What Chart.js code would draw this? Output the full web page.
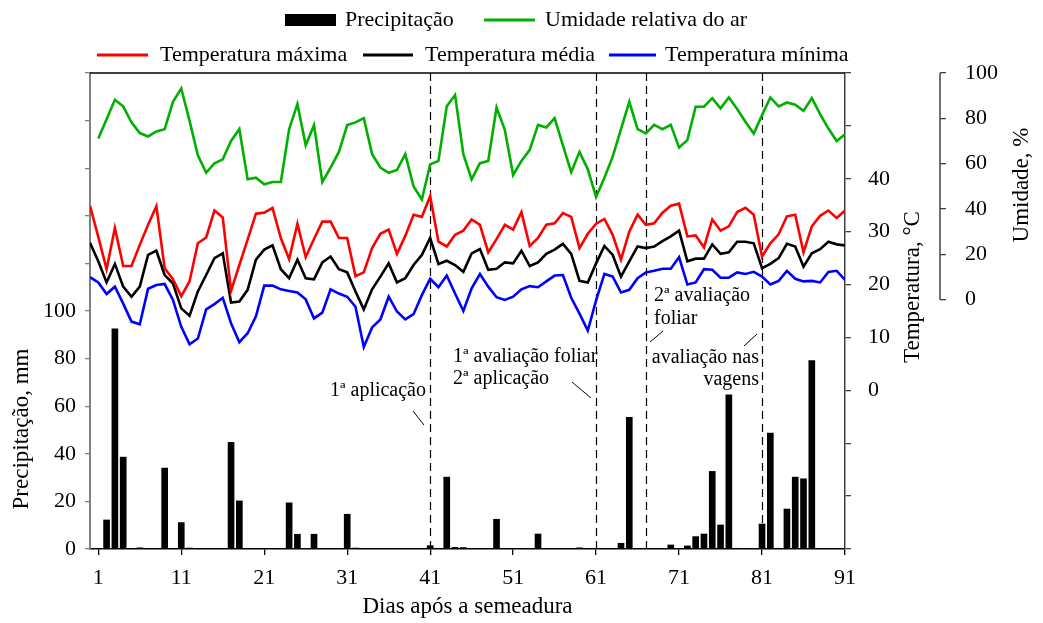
<!DOCTYPE html>
<html>
<head>
<meta charset="utf-8">
<script src="https://cdn.jsdelivr.net/npm/chart.js@4.4.1/dist/chart.umd.min.js"></script>
<style>
body { margin: 0; background: #fff; }
#box { width: 1043px; height: 623px; position: relative; }
</style>
</head>
<body>
<div id="box"><canvas id="grafico"></canvas></div>
<script>
// dias 1..91 (precipitacao, umidade) e 0..91 (temperaturas)
const diasTicks = [1, 11, 21, 31, 41, 51, 61, 71, 81, 91]
const precipTicks = [0, 20, 40, 60, 80, 100]
const tempTicks = [0, 10, 20, 30, 40]
const umidadeTicks = [0, 20, 40, 60, 80, 100]

const precipitacao = [
    0, 12.2, 92.5, 38.6, 0, 0.5, 0, 0, 34.0, 0,
    11.1, 0.4, 0, 0, 0, 0, 44.8, 20.2, 0, 0,
    0, 0, 0, 19.4, 6.2, 0, 6.2, 0, 0, 0,
    14.6, 0.4, 0, 0, 0, 0, 0, 0, 0, 0,
    1.4, 0, 30.2, 0.7, 0.6, 0, 0, 0, 12.5, 0,
    0, 0, 0, 6.3, 0, 0, 0, 0, 0.5, 0,
    0, 0, 0, 2.4, 55.3, 0, 0, 0, 0, 1.7,
    0, 1.3, 5.2, 6.3, 32.6, 10.1, 64.8, 0.3, 0, 0,
    10.5, 48.7, 0.3, 16.8, 30.2, 29.5, 79.2, 0, 0, 0,
    0
]

const umidade = [
    71.1, 79.6, 88.2, 85.3, 78.2, 73.5, 72.0, 74.2, 75.2, 87.3,
    93.2, 78.9, 63.7, 56.0, 60.2, 61.9, 70.0, 75.2, 53.1, 53.8,
    50.9, 51.9, 51.9, 75.2, 86.3, 68.1, 77.0, 51.9, 58.3, 65.2,
    77.0, 78.2, 80.1, 64.2, 58.3, 56.0, 57.2, 64.2, 49.9, 44.2,
    59.7, 61.2, 85.3, 90.3, 64.2, 53.1, 60.2, 61.2, 84.8, 74.9,
    55.0, 61.2, 66.1, 77.1, 76.0, 80.1, 68.1, 56.3, 65.2, 57.5,
    45.3, 53.8, 63.1, 75.2, 87.3, 75.2, 73.3, 77.1, 75.2, 77.1,
    67.1, 70.4, 85.1, 85.1, 88.9, 84.4, 89.2, 84.1, 78.5, 73.3,
    81.4, 89.2, 85.3, 87.0, 86.0, 83.3, 88.9, 81.9, 75.5, 70.0,
    73.0
]

const tempMaxima = [
    34.9, 29.0, 22.9, 30.7, 23.5, 23.5, 27.5, 31.3, 34.8, 23.1,
    21.0, 17.8, 20.6, 27.8, 28.9, 34.0, 32.7, 18.8, 23.7, 28.5,
    33.4, 33.6, 34.5, 28.8, 24.8, 31.5, 25.2, 28.6, 31.9, 31.9,
    28.8, 28.8, 21.6, 22.3, 26.9, 29.6, 30.4, 25.8, 29.2, 33.2,
    32.8, 36.7, 28.1, 27.2, 29.4, 30.2, 32.3, 31.3, 26.1, 28.6,
    31.3, 30.4, 33.7, 27.3, 28.8, 31.3, 31.6, 33.5, 32.8, 26.9,
    29.6, 31.5, 32.4, 29.4, 24.7, 30.0, 33.2, 31.3, 31.6, 33.6,
    34.9, 35.3, 29.1, 29.3, 27.0, 32.3, 30.2, 31.0, 33.7, 34.5,
    33.2, 25.3, 27.8, 29.5, 32.9, 33.2, 26.1, 31.0, 33.0, 34.0,
    32.6, 34.0
]

const tempMedia = [
    27.9, 24.4, 20.4, 23.9, 19.6, 17.7, 19.6, 25.6, 26.4, 21.8,
    20.2, 15.5, 14.1, 18.7, 21.8, 25.0, 25.9, 16.6, 16.8, 19.0,
    24.7, 26.6, 27.4, 22.9, 21.2, 24.7, 21.2, 21.0, 24.2, 25.3,
    22.9, 22.3, 18.7, 15.3, 19.1, 21.5, 24.0, 20.4, 21.2, 23.7,
    25.6, 28.8, 23.9, 24.5, 23.7, 22.4, 25.9, 26.7, 22.8, 23.0,
    24.2, 24.0, 26.4, 23.5, 24.2, 25.8, 26.6, 27.7, 25.8, 20.7,
    20.4, 24.0, 27.3, 25.6, 21.5, 24.4, 27.2, 26.9, 27.2, 28.2,
    29.1, 30.2, 24.4, 24.9, 24.9, 27.6, 25.8, 26.1, 28.1, 28.1,
    27.8, 23.1, 23.9, 25.0, 27.7, 27.2, 23.4, 25.9, 26.7, 28.1,
    27.6, 27.4
]

const tempMinima = [
    21.4, 20.4, 18.2, 19.6, 16.4, 13.0, 12.5, 19.2, 19.9, 20.1,
    17.1, 12.0, 8.7, 9.8, 15.3, 16.3, 17.5, 12.7, 9.1, 10.8,
    14.0, 19.8, 19.8, 19.1, 18.8, 18.5, 17.2, 13.6, 14.7, 19.1,
    18.3, 17.7, 15.8, 8.2, 11.9, 13.4, 17.7, 14.9, 13.4, 14.4,
    18.0, 21.1, 19.5, 21.7, 18.3, 15.0, 19.3, 22.0, 19.6, 17.6,
    17.1, 17.7, 19.1, 19.7, 19.5, 20.6, 21.7, 21.8, 17.5, 14.5,
    11.3, 17.0, 22.0, 21.5, 18.5, 19.0, 21.2, 22.3, 22.6, 23.0,
    23.0, 25.2, 20.0, 20.4, 22.9, 22.8, 21.3, 21.3, 22.3, 22.0,
    22.4, 21.5, 20.0, 20.7, 22.6, 21.1, 20.6, 20.7, 20.4, 22.4,
    22.6, 20.9
]

const eventos = [41, 61, 67, 81]

const fonte = '"Liberation Serif", "Times New Roman", serif'

function serie(valores, primeiroDia){
    let pontos = []
    for(let i = 0; i < valores.length; i++){
        pontos.push({ x: primeiroDia + i, y: valores[i] })
    }
    return pontos
}

function escrever(ctx, texto, x, y, align, tam){
    ctx.font = `${tam || 22}px ${fonte}`
    ctx.textAlign = align || 'left'
    ctx.textBaseline = 'middle'
    ctx.fillStyle = '#000'
    ctx.fillText(texto, x, y)
}

function linha(ctx, x1, y1, x2, y2, cor, larg){
    ctx.beginPath()
    ctx.strokeStyle = cor
    ctx.lineWidth = larg
    ctx.moveTo(x1, y1)
    ctx.lineTo(x2, y2)
    ctx.stroke()
}

const extras = {
    id: 'extras',
    beforeDatasetsDraw(chart){
        const ctx = chart.ctx
        const area = chart.chartArea
        const x = chart.scales.x
        ctx.save()
        ctx.setLineDash([8, 5])
        for(let dia of eventos){
            let px = Math.round(x.getPixelForValue(dia)) + 0.5
            linha(ctx, px, area.top, px, area.bottom, '#000', 1.2)
        }
        ctx.restore()
    },
    afterDraw(chart){
        const ctx = chart.ctx
        const area = chart.chartArea
        ctx.save()

        // borda superior
        linha(ctx, area.left, area.top, area.right, area.top, '#000', 1.5)

        // eixo da umidade so de 0 a 100
        const yH = chart.scales.yH
        linha(ctx, yH.left, yH.getPixelForValue(100), yH.left, yH.getPixelForValue(0), '#404040', 1.5)

        // legenda
        ctx.fillStyle = '#000'
        ctx.fillRect(285, 14, 51, 12)
        escrever(ctx, 'Precipitação', 345, 20)
        linha(ctx, 484, 20, 535, 20, 'rgb(0,176,0)', 3)
        escrever(ctx, 'Umidade relativa do ar', 545, 20)
        linha(ctx, 97, 55, 148, 55, '#ff0000', 3)
        escrever(ctx, 'Temperatura máxima', 160, 55)
        linha(ctx, 363, 55, 413, 55, '#000', 3)
        escrever(ctx, 'Temperatura média', 425, 55)
        linha(ctx, 609, 55, 656, 55, '#0000ff', 3)
        escrever(ctx, 'Temperatura mínima', 665, 55)

        // titulos dos eixos
        escrever(ctx, 'Dias após a semeadura', (area.left + area.right) / 2, 607, 'center', 23)
        let titulos = [
            ['Precipitação, mm', 22, 429],
            ['Temperatura, °C', 913, 287],
            ['Umidade, %', 1022, 185]
        ]
        for(let t of titulos){
            ctx.save()
            ctx.translate(t[1], t[2])
            ctx.rotate(-Math.PI / 2)
            escrever(ctx, t[0], 0, 0, 'center', 23)
            ctx.restore()
        }

        // anotacoes
        escrever(ctx, '1ª aplicação', 426, 391, 'right', 20)
        linha(ctx, 413, 411, 424, 425, '#000', 1)
        escrever(ctx, '1ª avaliação foliar', 453, 357, 'left', 20)
        escrever(ctx, '2ª aplicação', 453, 379, 'left', 20)
        linha(ctx, 572, 382, 591, 398, '#000', 1)
        escrever(ctx, '2ª avaliação', 654, 296, 'left', 20)
        escrever(ctx, 'foliar', 654, 319, 'left', 20)
        linha(ctx, 650, 342, 663, 331, '#000', 1)
        escrever(ctx, 'avaliação nas', 759, 358, 'right', 20)
        escrever(ctx, 'vagens', 759, 380, 'right', 20)
        linha(ctx, 744, 346, 757, 334, '#000', 1)

        ctx.restore()
    }
}

function setGraph(){
    const ctx = document.getElementById('grafico').getContext('2d')
    const tickFont = { family: fonte, size: 22 }
    const estrutura = {
        type: 'bar',
        data: {
            datasets: [
                {
                    type: 'line', label: 'Umidade relativa do ar', data: serie(umidade, 1),
                    yAxisID: 'yH', borderColor: 'rgb(0,176,0)', borderWidth: 2.6,
                    pointRadius: 0, tension: 0
                },
                {
                    type: 'line', label: 'Temperatura máxima', data: serie(tempMaxima, 0),
                    yAxisID: 'yT', borderColor: '#ff0000', borderWidth: 2.6,
                    pointRadius: 0, tension: 0
                },
                {
                    type: 'line', label: 'Temperatura média', data: serie(tempMedia, 0),
                    yAxisID: 'yT', borderColor: '#000000', borderWidth: 2.6,
                    pointRadius: 0, tension: 0
                },
                {
                    type: 'line', label: 'Temperatura mínima', data: serie(tempMinima, 0),
                    yAxisID: 'yT', borderColor: '#0000ff', borderWidth: 2.6,
                    pointRadius: 0, tension: 0
                },
                {
                    label: 'Precipitação', data: serie(precipitacao, 1),
                    yAxisID: 'y', backgroundColor: '#000', barThickness: 6
                }
            ]
        },
        options: {
            responsive: true,
            maintainAspectRatio: false,
            animation: false,
            layout: { padding: { top: 73, left: 0, right: 0, bottom: 0 } },
            plugins: { legend: { display: false }, tooltip: { enabled: false } },
            scales: {
                x: {
                    type: 'linear', min: 0, max: 91, offset: false,
                    afterBuildTicks: s => { s.ticks = diasTicks.map(v => ({ value: v })) },
                    afterFit: s => { s.height = 74 },
                    ticks: { font: tickFont, color: '#000', padding: 10, maxRotation: 0, callback: v => v },
                    grid: { drawOnChartArea: false, offset: false, tickLength: 6, color: '#000', lineWidth: 1.3 },
                    border: { color: '#000', width: 1.5 }
                },
                y: {
                    position: 'left', min: 0, max: 200,
                    ticks: { stepSize: 20, font: tickFont, color: '#000', padding: 9,
                        callback: v => precipTicks.includes(v) ? v : '' },
                    afterFit: s => { s.width = 90 },
                    grid: { drawOnChartArea: false, tickLength: 5, color: '#808080', lineWidth: 1.3 },
                    border: { color: '#808080', width: 2 }
                },
                yT: {
                    position: 'right', min: -30, max: 60, weight: 0,
                    ticks: { stepSize: 10, font: tickFont, color: '#000', padding: 17,
                        callback: v => tempTicks.includes(v) ? v : '' },
                    afterFit: s => { s.width = 95 },
                    grid: { drawOnChartArea: false, tickLength: 6, color: '#404040', lineWidth: 1.3 },
                    border: { color: '#404040', width: 1.5 }
                },
                yH: {
                    position: 'right', min: -110, max: 100, weight: 1,
                    afterBuildTicks: s => { s.ticks = umidadeTicks.map(v => ({ value: v })) },
                    ticks: { font: tickFont, color: '#000', padding: 19 },
                    afterFit: s => { s.width = 103 },
                    grid: { drawOnChartArea: false, tickLength: 6, color: '#404040', lineWidth: 1.3 },
                    border: { display: false }
                }
            }
        },
        plugins: [extras]
    }
    const myChart = new Chart(ctx, estrutura)
}

setGraph()
</script>
</body>
</html>
